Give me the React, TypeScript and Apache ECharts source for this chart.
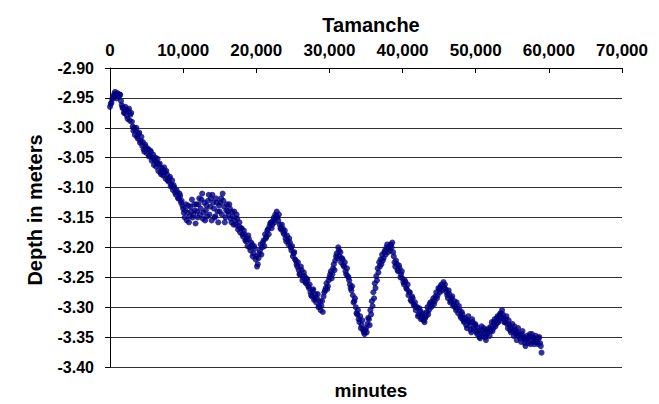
import React, { useEffect, useRef } from "react";
import * as echarts from "echarts";

const chartTitle = "Tamanche";
const xAxisTitle = "minutes";
const yAxisTitle = "Depth in meters";

// x axis (minutes) range and ticks
const xMin = 0;
const xMax = 70000;
const xStep = 10000;
// y axis (depth in meters) range and ticks
const yMin = -3.4;
const yMax = -2.9;
const yStep = 0.05;

// readings: two interleaved runs, each one reading every 200 minutes
const sampleInterval = 200;
const startA = 0;
const startB = 100;

// depth readings (m) starting at minute 0, 10 per row (2,000 min)
const depthsA = [
  -2.965, -2.958, -2.95, -2.943, -2.947, -2.942, -2.948, -2.945, -2.962, -2.968,
  -2.975, -2.97, -2.985, -2.968, -2.978, -2.99, -3.005, -3.012, -3.0, -3.018,
  -3.008, -3.022, -3.03, -3.036, -3.028, -3.042, -3.035, -3.046, -3.04, -3.05,
  -3.062, -3.05, -3.058, -3.072, -3.06, -3.078, -3.07, -3.066, -3.085, -3.078,
  -3.09, -3.082, -3.095, -3.104, -3.1, -3.112, -3.108, -3.118, -3.114, -3.122,
  -3.135, -3.15, -3.128, -3.142, -3.158, -3.132, -3.12, -3.145, -3.138, -3.128,
  -3.15, -3.118, -3.135, -3.11, -3.142, -3.155, -3.13, -3.122, -3.145, -3.118,
  -3.112, -3.135, -3.148, -3.125, -3.158, -3.14, -3.118, -3.11, -3.132, -3.15,
  -3.128, -3.145, -3.135, -3.158, -3.148, -3.14, -3.162, -3.152, -3.165, -3.175,
  -3.168, -3.182, -3.178, -3.19, -3.198, -3.186, -3.205, -3.195, -3.21, -3.202,
  -3.215, -3.228, -3.21, -3.195, -3.2, -3.188, -3.178, -3.182, -3.17, -3.165,
  -3.158, -3.162, -3.15, -3.145, -3.14, -3.155, -3.162, -3.17, -3.168, -3.178,
  -3.185, -3.18, -3.195, -3.192, -3.205, -3.215, -3.208, -3.222, -3.232, -3.238,
  -3.245, -3.238, -3.25, -3.248, -3.26, -3.255, -3.268, -3.275, -3.282, -3.27,
  -3.285, -3.292, -3.278, -3.298, -3.305, -3.29, -3.282, -3.272, -3.26, -3.265,
  -3.25, -3.24, -3.245, -3.228, -3.222, -3.21, -3.2, -3.215, -3.225, -3.22,
  -3.232, -3.24, -3.235, -3.25, -3.262, -3.272, -3.28, -3.29, -3.3, -3.312,
  -3.32, -3.315, -3.33, -3.338, -3.345, -3.335, -3.328, -3.32, -3.305, -3.29,
  -3.275, -3.26, -3.248, -3.235, -3.225, -3.22, -3.212, -3.218, -3.205, -3.2,
  -3.208, -3.198, -3.195, -3.192, -3.215, -3.232, -3.228, -3.24, -3.235, -3.245,
  -3.252, -3.262, -3.258, -3.27, -3.28, -3.275, -3.29, -3.285, -3.298, -3.305,
  -3.3, -3.312, -3.306, -3.318, -3.31, -3.325, -3.315, -3.3, -3.305, -3.292,
  -3.298, -3.285, -3.29, -3.275, -3.28, -3.27, -3.265, -3.272, -3.258, -3.262,
  -3.275, -3.285, -3.278, -3.29, -3.282, -3.295, -3.3, -3.292, -3.31, -3.305,
  -3.318, -3.312, -3.325, -3.32, -3.335, -3.315, -3.33, -3.342, -3.325, -3.338,
  -3.33, -3.345, -3.34, -3.352, -3.332, -3.348, -3.338, -3.355, -3.342, -3.335,
  -3.34, -3.325, -3.335, -3.32, -3.328, -3.315, -3.322, -3.31, -3.305, -3.318,
  -3.325, -3.315, -3.335, -3.33, -3.342, -3.328, -3.348, -3.338, -3.355, -3.335,
  -3.345, -3.358, -3.34, -3.352, -3.365, -3.348, -3.36, -3.345, -3.355, -3.35,
  -3.362, -3.348, -3.358, -3.352, -3.36, -3.376,
];

// depth readings (m) starting at minute 100, 10 per row (2,000 min)
const depthsB = [
  -2.96, -2.952, -2.946, -2.94, -2.951, -2.945, -2.944, -2.955, -2.966, -2.975,
  -2.965, -2.98, -2.972, -2.988, -2.975, -2.998, -3.0, -3.004, -3.015, -3.01,
  -3.025, -3.015, -3.024, -3.04, -3.032, -3.036, -3.048, -3.038, -3.055, -3.045,
  -3.055, -3.065, -3.052, -3.062, -3.075, -3.068, -3.08, -3.074, -3.072, -3.088,
  -3.085, -3.098, -3.088, -3.096, -3.108, -3.104, -3.118, -3.11, -3.125, -3.13,
  -3.142, -3.138, -3.155, -3.13, -3.148, -3.14, -3.15, -3.128, -3.16, -3.14,
  -3.128, -3.145, -3.12, -3.152, -3.125, -3.138, -3.148, -3.112, -3.132, -3.155,
  -3.125, -3.15, -3.118, -3.14, -3.13, -3.125, -3.145, -3.122, -3.158, -3.138,
  -3.14, -3.128, -3.152, -3.14, -3.162, -3.155, -3.145, -3.17, -3.158, -3.168,
  -3.178, -3.172, -3.188, -3.185, -3.18, -3.2, -3.192, -3.215, -3.198, -3.22,
  -3.232, -3.218, -3.205, -3.212, -3.192, -3.198, -3.185, -3.172, -3.178, -3.16,
  -3.168, -3.155, -3.158, -3.148, -3.15, -3.145, -3.168, -3.162, -3.175, -3.172,
  -3.19, -3.188, -3.185, -3.2, -3.198, -3.21, -3.22, -3.228, -3.225, -3.245,
  -3.232, -3.255, -3.242, -3.258, -3.252, -3.265, -3.262, -3.28, -3.272, -3.288,
  -3.278, -3.285, -3.3, -3.29, -3.298, -3.308, -3.275, -3.268, -3.27, -3.255,
  -3.245, -3.252, -3.235, -3.238, -3.215, -3.218, -3.205, -3.208, -3.218, -3.23,
  -3.225, -3.245, -3.248, -3.255, -3.268, -3.265, -3.292, -3.285, -3.31, -3.305,
  -3.325, -3.335, -3.322, -3.342, -3.338, -3.342, -3.318, -3.33, -3.312, -3.298,
  -3.285, -3.268, -3.255, -3.242, -3.232, -3.228, -3.222, -3.208, -3.212, -3.195,
  -3.202, -3.205, -3.2, -3.208, -3.225, -3.222, -3.238, -3.23, -3.25, -3.24,
  -3.258, -3.255, -3.268, -3.262, -3.275, -3.288, -3.282, -3.295, -3.292, -3.3,
  -3.315, -3.302, -3.32, -3.312, -3.322, -3.318, -3.308, -3.312, -3.295, -3.3,
  -3.29, -3.295, -3.282, -3.285, -3.268, -3.275, -3.262, -3.265, -3.268, -3.27,
  -3.28, -3.272, -3.292, -3.285, -3.298, -3.29, -3.305, -3.302, -3.298, -3.315,
  -3.308, -3.322, -3.318, -3.33, -3.322, -3.325, -3.338, -3.32, -3.335, -3.328,
  -3.342, -3.335, -3.35, -3.345, -3.34, -3.335, -3.35, -3.345, -3.338, -3.348,
  -3.332, -3.34, -3.325, -3.332, -3.318, -3.325, -3.312, -3.318, -3.312, -3.325,
  -3.32, -3.328, -3.322, -3.338, -3.335, -3.34, -3.332, -3.345, -3.342, -3.348,
  -3.352, -3.345, -3.35, -3.36, -3.355, -3.352, -3.35, -3.362, -3.345, -3.358,
  -3.355, -3.352, -3.362, -3.35, -3.365,
];

const FONT = "'Liberation Sans', Arial, Helvetica, sans-serif";

export default function App() {
  const ref = useRef<HTMLDivElement>(null);

  useEffect(() => {
    if (!ref.current) return;
    const chart = echarts.init(ref.current, undefined, { renderer: "svg" });
    const points = [
      ...depthsA.map((d, i) => [startA + i * sampleInterval, d]),
      ...depthsB.map((d, i) => [startB + i * sampleInterval, d]),
    ];

    chart.setOption({
      animation: false,
      backgroundColor: "#ffffff",
      textStyle: { fontFamily: FONT },
      title: [
        {
          text: chartTitle,
          left: 366,
          top: 10,
          textAlign: "center",
          textStyle: { fontFamily: FONT, fontSize: 20, fontWeight: "bold", color: "#000" },
        },
        {
          text: xAxisTitle,
          left: 366,
          top: 376,
          textAlign: "center",
          textStyle: { fontFamily: FONT, fontSize: 19, fontWeight: "bold", color: "#000" },
        },
      ],
      graphic: [
        {
          type: "text",
          x: 35,
          y: 210,
          rotation: Math.PI / 2,
          style: {
            text: yAxisTitle,
            font: `bold 20px ${FONT}`,
            fill: "#000",
            textAlign: "center",
            textVerticalAlign: "middle",
          },
        },
      ],
      grid: { left: 110, right: 37, top: 68, bottom: 37, containLabel: false },
      xAxis: {
        type: "value",
        position: "top",
        min: xMin,
        max: xMax,
        interval: xStep,
        axisLine: { show: true, onZero: false, lineStyle: { color: "#000", width: 1 } },
        axisTick: { show: true, inside: true, length: 5, lineStyle: { color: "#000" } },
        splitLine: { show: false },
        axisLabel: {
          margin: 9,
          fontFamily: FONT,
          fontSize: 17,
          fontWeight: "bold",
          color: "#000",
          formatter: (v: number) => v.toLocaleString("en-US"),
        },
      },
      yAxis: {
        type: "value",
        min: yMin,
        max: yMax,
        interval: yStep,
        axisLine: { show: true, onZero: false, lineStyle: { color: "#000", width: 1 } },
        axisTick: { show: true, inside: false, length: 5, lineStyle: { color: "#000" } },
        splitLine: { show: true, lineStyle: { color: "#333", width: 1 } },
        axisLabel: {
          margin: 16,
          fontFamily: FONT,
          fontSize: 16,
          fontWeight: "bold",
          color: "#000",
          formatter: (v: number) => v.toFixed(2),
        },
      },
      series: [
        {
          type: "scatter",
          data: points,
          symbol: "circle",
          symbolSize: 6,
          itemStyle: { color: "#000080" },
        },
      ],
    });

    return () => chart.dispose();
  }, []);

  return (
    <div
      ref={ref}
      style={{ position: "fixed", left: 0, top: 0, width: 659, height: 404 }}
    />
  );
}
